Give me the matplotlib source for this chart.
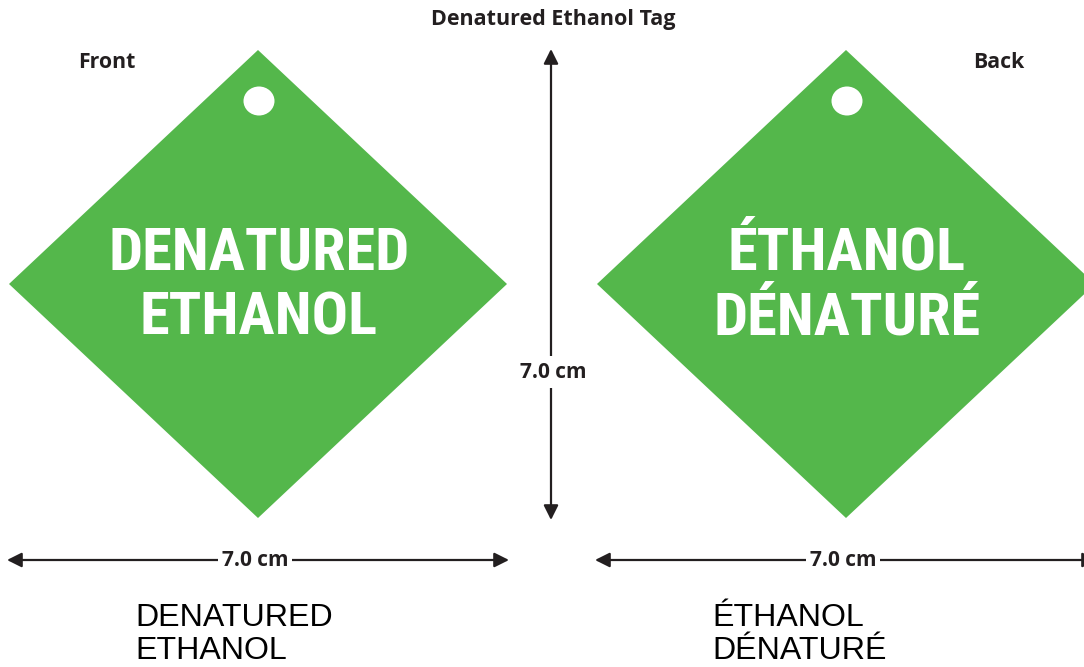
import matplotlib.pyplot as plt
from matplotlib.patches import Polygon, Ellipse

# texts of the figure
title = 'Denatured Ethanol Tag'
side_names = ['Front', 'Back']
tag_texts = ['DENATURED\nETHANOL', 'ÉTHANOL\nDÉNATURÉ']
size_label = '7.0 cm'

W, H = 1084, 667
GREEN = '#54B74B'
DARK = '#231F20'

fig = plt.figure(figsize=(W / 100, H / 100), dpi=100)
ax = fig.add_axes([0, 0, 1, 1])
ax.set_xlim(0, W)
ax.set_ylim(H, 0)
ax.axis('off')

centres = [258, 846]
cy, hw, hh = 284, 249, 234
label_font = ['Open Sans', 'DejaVu Sans']
tag_font = ['Roboto Condensed', 'DejaVu Sans']

for i, cx in enumerate(centres):
    # diamond tag with its hole
    ax.add_patch(Polygon([(cx, cy - hh), (cx + hw, cy), (cx, cy + hh), (cx - hw, cy)],
                         closed=True, facecolor=GREEN, edgecolor='none'))
    ax.add_patch(Ellipse((cx + 1, 101), 31, 29, facecolor='white', edgecolor='none'))
    ax.text(cx + 1, 286, tag_texts[i], color='white', fontsize=43.5, fontweight='bold',
            fontstretch='condensed', family=tag_font, ha='center', va='center',
            linespacing=1.2)

    # width arrow
    ax.annotate('', xy=(cx - hw - 2, 560), xytext=(cx + hw + 2, 560),
                arrowprops=dict(arrowstyle='<|-|>', color=DARK, lw=1.6,
                                mutation_scale=22, shrinkA=0, shrinkB=0))
    ax.text(cx - 3, 560, size_label, color=DARK, fontsize=15, fontweight='bold',
            family=label_font, ha='center', va='center',
            bbox=dict(facecolor='white', edgecolor='none', pad=3))

    # plain text version below
    ax.text(cx - 122 + (-1 if i == 0 else -12), 603, tag_texts[i], color='black',
            fontsize=23.1, family=['Liberation Sans', 'DejaVu Sans'],
            ha='left', va='top', linespacing=1.13)

# height arrow
ax.annotate('', xy=(551, 49), xytext=(551, 520),
            arrowprops=dict(arrowstyle='<|-|>', color=DARK, lw=1.6,
                            mutation_scale=22, shrinkA=0, shrinkB=0))
ax.text(553, 372, size_label, color=DARK, fontsize=15, fontweight='bold',
        family=label_font, ha='center', va='center',
        bbox=dict(facecolor='white', edgecolor='none', pad=4))

ax.text(553, 20, title, color=DARK, fontsize=15.5, fontweight='bold',
        family=label_font, ha='center', va='center')
ax.text(78, 63, side_names[0], color=DARK, fontsize=15.3, fontweight='bold',
        family=label_font, ha='left', va='center')
ax.text(1024, 63, side_names[1], color=DARK, fontsize=15.3, fontweight='bold',
        family=label_font, ha='right', va='center')

fig.savefig('out.png', dpi=100)
